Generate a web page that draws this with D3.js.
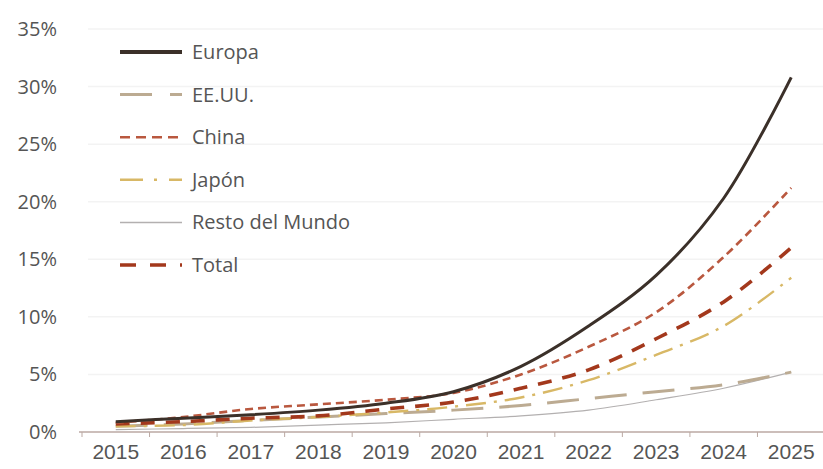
<!DOCTYPE html>
<html>
<head>
<meta charset="utf-8">
<script src="https://cdn.jsdelivr.net/npm/d3@7"></script>
<style>
  body { margin: 0; background: #fff; }
  svg { display: block; font-family: "Open Sans", "Noto Sans", sans-serif; }
</style>
</head>
<body>
<div id="chart"></div>
<script>
// years on the x axis
const years = ["2015", "2016", "2017", "2018", "2019", "2020", "2021", "2022", "2023", "2024", "2025"];
const yTicks = [0, 5, 10, 15, 20, 25, 30, 35];

// series values (%)
const europa = [0.9, 1.2, 1.5, 1.9, 2.5, 3.5, 5.7, 9.2, 13.6, 20.3, 30.8];
const eeuu = [0.5, 0.7, 1.0, 1.3, 1.6, 1.9, 2.3, 2.9, 3.5, 4.1, 5.2];
const china = [0.8, 1.3, 2.0, 2.4, 2.8, 3.4, 5.0, 7.4, 10.4, 15.2, 21.2];
const japon = [0.5, 0.6, 1.0, 1.3, 1.7, 2.2, 3.0, 4.5, 6.7, 9.2, 13.4];
const resto = [0.2, 0.3, 0.4, 0.6, 0.8, 1.1, 1.4, 1.9, 2.8, 3.8, 5.2];
const total = [0.7, 0.9, 1.2, 1.4, 2.0, 2.6, 3.8, 5.4, 8.1, 11.3, 16.0];

const seriesNames = ["Europa", "EE.UU.", "China", "Japón", "Resto del Mundo", "Total"];

const width = 823, height = 469;

const config = {
    left: 82,
    right: 825,
    top: 29,
    bottom: 432,
    textColor: '#555',
    axisColor: '#bba9a3',
    gridColor: '#f3f3f3'
};

// drawing styles, same order as seriesNames
const styles = [
    {color: '#3b3029', width: 3, legendWidth: 4, dash: null},
    {color: '#bcab92', width: 3, legendWidth: 3, dash: '32,16', legendDash: '32,18,12'},
    {color: '#b9583f', width: 2.6, legendWidth: 2.6, dash: '8,5', legendDash: '10,6'},
    {color: '#d8b866', width: 2.4, legendWidth: 2.4, dash: '20,8,3,8', legendDash: '23,11,3,12'},
    {color: '#b3b0b0', width: 1.2, legendWidth: 1.5, dash: null},
    {color: '#a3381c', width: 3.6, legendWidth: 3.6, dash: '14,11', legendDash: '16,14'}
];

const allSeries = [europa, eeuu, china, japon, resto, total];

const svg = d3.select('#chart').append('svg')
    .attr('width', width)
    .attr('height', height);

const x = d3.scaleBand()
    .domain(years)
    .range([config.left, config.right])
    .padding(0);

const y = d3.scaleLinear()
    .domain([0, 35])
    .range([config.bottom, config.top]);

// gridlines
svg.append('g')
    .selectAll('line')
    .data(yTicks.filter(d => d > 0))
    .enter().append('line')
    .attr('x1', 88)
    .attr('x2', width)
    .attr('y1', d => y(d))
    .attr('y2', d => y(d))
    .attr('stroke', config.gridColor)
    .attr('stroke-width', 1.5);

// y labels
svg.append('g')
    .selectAll('text')
    .data(yTicks)
    .enter().append('text')
    .attr('x', 57)
    .attr('y', d => y(d))
    .attr('dy', '0.35em')
    .attr('text-anchor', 'end')
    .attr('fill', config.textColor)
    .style('font-size', '20px')
    .text(d => d + '%');

// x axis
const xAxis = d3.axisBottom(x).tickSize(0).tickPadding(12);
const gx = svg.append('g')
    .attr('transform', 'translate(0,' + config.bottom + ')')
    .call(xAxis);
gx.select('.domain').remove();
gx.selectAll('text')
    .attr('fill', config.textColor)
    .style('font-size', '21px');

svg.append('line')
    .attr('x1', config.left - 3)
    .attr('x2', width)
    .attr('y1', config.bottom)
    .attr('y2', config.bottom)
    .attr('stroke', config.axisColor)
    .attr('stroke-width', 1.5);

// tick marks between the years
svg.append('g')
    .selectAll('line')
    .data(years)
    .enter().append('line')
    .attr('x1', d => x(d))
    .attr('x2', d => x(d))
    .attr('y1', config.bottom)
    .attr('y2', config.bottom + 5)
    .attr('stroke', config.axisColor)
    .attr('stroke-width', 1);

// lines
const line = d3.line()
    .x((d, i) => x(years[i]) + x.bandwidth() / 2)
    .y(d => y(d))
    .curve(d3.curveCatmullRom.alpha(0.5));

const drawOrder = [4, 1, 3, 5, 2, 0];
svg.append('g')
    .selectAll('path')
    .data(drawOrder)
    .enter().append('path')
    .attr('d', i => line(allSeries[i]))
    .attr('fill', 'none')
    .attr('stroke', i => styles[i].color)
    .attr('stroke-width', i => styles[i].width)
    .attr('stroke-dasharray', i => styles[i].dash);

// legend
const legend = svg.append('g')
    .attr('transform', 'translate(120,52)');

const rows = legend.selectAll('g')
    .data(seriesNames)
    .enter().append('g')
    .attr('transform', (d, i) => 'translate(0,' + (i * 42.6) + ')');

rows.append('line')
    .attr('x1', 0)
    .attr('x2', 62)
    .attr('stroke', (d, i) => styles[i].color)
    .attr('stroke-width', (d, i) => styles[i].legendWidth)
    .attr('stroke-dasharray', (d, i) => styles[i].legendDash || null);

rows.append('text')
    .attr('x', 72)
    .attr('dy', '0.35em')
    .attr('fill', config.textColor)
    .style('font-size', '20px')
    .text(d => d);
</script>
</body>
</html>
